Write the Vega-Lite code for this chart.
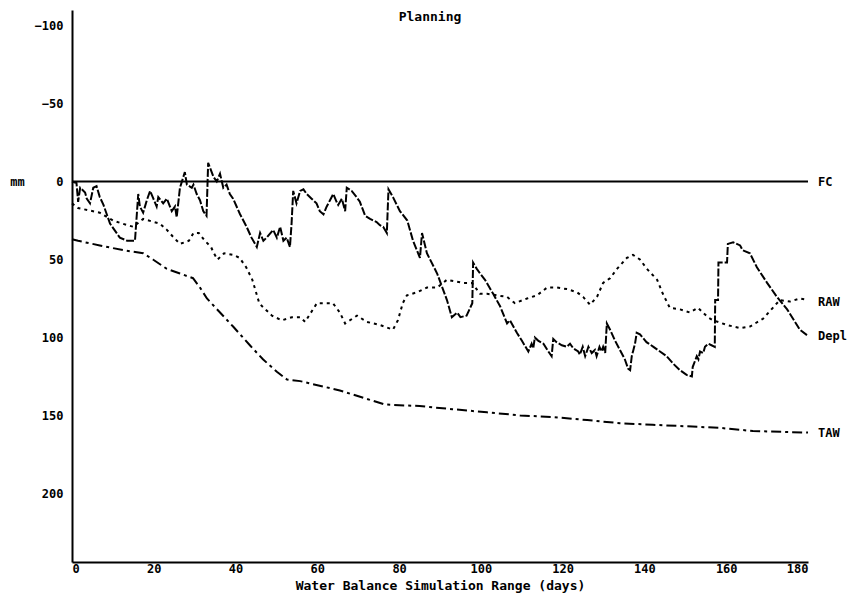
{
  "$schema": "https://vega.github.io/schema/vega-lite/v6.json",
  "width": 736,
  "height": 552,
  "autosize": {"type": "none"},
  "padding": {"left": 72, "top": 10, "right": 56, "bottom": 36},
  "background": "white",
  "config": {
    "view": {"stroke": null},
    "font": "DejaVu Sans Mono",
    "axis": {
      "grid": false,
      "ticks": false,
      "domainColor": "black",
      "domainWidth": 2,
      "labelFont": "DejaVu Sans Mono",
      "labelFontWeight": "bold",
      "labelFontSize": 12,
      "labelColor": "black",
      "titleFont": "DejaVu Sans Mono",
      "titleFontWeight": "bold",
      "titleFontSize": 13,
      "titleColor": "black"
    }
  },
  "title": {
    "text": "Planning",
    "orient": "top",
    "anchor": "middle",
    "offset": -14,
    "dx": -10,
    "font": "DejaVu Sans Mono",
    "fontSize": 13,
    "fontWeight": "bold",
    "color": "black"
  },
  "datasets": {
    "series": [
      {"series": "FC", "day": 0, "mm": 0}, {"series": "FC", "day": 180, "mm": 0},
      {"series": "Depl", "day": 0, "mm": 0}, {"series": "Depl", "day": 1.1, "mm": 1}, {"series": "Depl", "day": 1.5, "mm": 13},
      {"series": "Depl", "day": 2, "mm": 4}, {"series": "Depl", "day": 3.2, "mm": 7}, {"series": "Depl", "day": 3.6, "mm": 11},
      {"series": "Depl", "day": 4.4, "mm": 14}, {"series": "Depl", "day": 5.2, "mm": 4}, {"series": "Depl", "day": 6, "mm": 3},
      {"series": "Depl", "day": 6.8, "mm": 10}, {"series": "Depl", "day": 7.7, "mm": 15}, {"series": "Depl", "day": 9.3, "mm": 27},
      {"series": "Depl", "day": 11.7, "mm": 36}, {"series": "Depl", "day": 13.5, "mm": 38}, {"series": "Depl", "day": 15.4, "mm": 38},
      {"series": "Depl", "day": 16.2, "mm": 8}, {"series": "Depl", "day": 16.6, "mm": 16}, {"series": "Depl", "day": 17.4, "mm": 20},
      {"series": "Depl", "day": 18.3, "mm": 12}, {"series": "Depl", "day": 19.1, "mm": 6}, {"series": "Depl", "day": 19.9, "mm": 11},
      {"series": "Depl", "day": 20.7, "mm": 16}, {"series": "Depl", "day": 21.1, "mm": 10}, {"series": "Depl", "day": 22.3, "mm": 14},
      {"series": "Depl", "day": 23.2, "mm": 11}, {"series": "Depl", "day": 24.4, "mm": 19}, {"series": "Depl", "day": 25.2, "mm": 16},
      {"series": "Depl", "day": 25.6, "mm": 23}, {"series": "Depl", "day": 26.4, "mm": 4}, {"series": "Depl", "day": 27.6, "mm": -6},
      {"series": "Depl", "day": 28.1, "mm": 2}, {"series": "Depl", "day": 29.3, "mm": 4}, {"series": "Depl", "day": 29.7, "mm": 2},
      {"series": "Depl", "day": 30.5, "mm": 8}, {"series": "Depl", "day": 31.3, "mm": 12}, {"series": "Depl", "day": 32.1, "mm": 19},
      {"series": "Depl", "day": 32.9, "mm": 22}, {"series": "Depl", "day": 33.3, "mm": -12}, {"series": "Depl", "day": 34.6, "mm": -3},
      {"series": "Depl", "day": 35.4, "mm": 0}, {"series": "Depl", "day": 36.2, "mm": -5}, {"series": "Depl", "day": 37, "mm": 4},
      {"series": "Depl", "day": 37.8, "mm": 2}, {"series": "Depl", "day": 38.6, "mm": 8}, {"series": "Depl", "day": 39.4, "mm": 11},
      {"series": "Depl", "day": 41.1, "mm": 21}, {"series": "Depl", "day": 42.7, "mm": 29}, {"series": "Depl", "day": 43.9, "mm": 36},
      {"series": "Depl", "day": 45.2, "mm": 42}, {"series": "Depl", "day": 46, "mm": 33}, {"series": "Depl", "day": 46.8, "mm": 38},
      {"series": "Depl", "day": 47.6, "mm": 36}, {"series": "Depl", "day": 49.2, "mm": 31}, {"series": "Depl", "day": 50.1, "mm": 36},
      {"series": "Depl", "day": 50.9, "mm": 29}, {"series": "Depl", "day": 51.7, "mm": 38}, {"series": "Depl", "day": 52.5, "mm": 36},
      {"series": "Depl", "day": 53.3, "mm": 42}, {"series": "Depl", "day": 53.7, "mm": 27}, {"series": "Depl", "day": 54.1, "mm": 6},
      {"series": "Depl", "day": 54.9, "mm": 14}, {"series": "Depl", "day": 55.8, "mm": 6}, {"series": "Depl", "day": 56.6, "mm": 5},
      {"series": "Depl", "day": 57.4, "mm": 8}, {"series": "Depl", "day": 58.6, "mm": 11}, {"series": "Depl", "day": 59.8, "mm": 14},
      {"series": "Depl", "day": 60.6, "mm": 19}, {"series": "Depl", "day": 61.5, "mm": 21}, {"series": "Depl", "day": 62.3, "mm": 16},
      {"series": "Depl", "day": 63.1, "mm": 12}, {"series": "Depl", "day": 63.9, "mm": 8}, {"series": "Depl", "day": 64.7, "mm": 13},
      {"series": "Depl", "day": 65.1, "mm": 15}, {"series": "Depl", "day": 66, "mm": 11}, {"series": "Depl", "day": 66.8, "mm": 19},
      {"series": "Depl", "day": 67.2, "mm": 4}, {"series": "Depl", "day": 68.4, "mm": 6}, {"series": "Depl", "day": 69.6, "mm": 10},
      {"series": "Depl", "day": 70.4, "mm": 13}, {"series": "Depl", "day": 71.7, "mm": 22}, {"series": "Depl", "day": 72.9, "mm": 24},
      {"series": "Depl", "day": 74.5, "mm": 26}, {"series": "Depl", "day": 75.3, "mm": 28}, {"series": "Depl", "day": 76.1, "mm": 29},
      {"series": "Depl", "day": 77, "mm": 33}, {"series": "Depl", "day": 77.4, "mm": 5}, {"series": "Depl", "day": 78.5, "mm": 10},
      {"series": "Depl", "day": 80.2, "mm": 19}, {"series": "Depl", "day": 82, "mm": 25}, {"series": "Depl", "day": 83.4, "mm": 38},
      {"series": "Depl", "day": 85.1, "mm": 49}, {"series": "Depl", "day": 85.6, "mm": 33}, {"series": "Depl", "day": 86.8, "mm": 46},
      {"series": "Depl", "day": 89.3, "mm": 59}, {"series": "Depl", "day": 91.7, "mm": 76}, {"series": "Depl", "day": 92.9, "mm": 87},
      {"series": "Depl", "day": 94.2, "mm": 84}, {"series": "Depl", "day": 95, "mm": 87}, {"series": "Depl", "day": 96.5, "mm": 86},
      {"series": "Depl", "day": 97.9, "mm": 78}, {"series": "Depl", "day": 98.1, "mm": 52}, {"series": "Depl", "day": 99, "mm": 56},
      {"series": "Depl", "day": 99.8, "mm": 59}, {"series": "Depl", "day": 101, "mm": 63}, {"series": "Depl", "day": 103, "mm": 72},
      {"series": "Depl", "day": 104.7, "mm": 80}, {"series": "Depl", "day": 106.4, "mm": 91}, {"series": "Depl", "day": 107.1, "mm": 89},
      {"series": "Depl", "day": 108.8, "mm": 97}, {"series": "Depl", "day": 110, "mm": 102}, {"series": "Depl", "day": 111.6, "mm": 109},
      {"series": "Depl", "day": 112.4, "mm": 104}, {"series": "Depl", "day": 112.8, "mm": 107}, {"series": "Depl", "day": 113.2, "mm": 100},
      {"series": "Depl", "day": 114, "mm": 102}, {"series": "Depl", "day": 115.3, "mm": 104}, {"series": "Depl", "day": 116.5, "mm": 109},
      {"series": "Depl", "day": 117.3, "mm": 112}, {"series": "Depl", "day": 117.7, "mm": 101}, {"series": "Depl", "day": 118.5, "mm": 103},
      {"series": "Depl", "day": 119.8, "mm": 105}, {"series": "Depl", "day": 121, "mm": 106}, {"series": "Depl", "day": 121.8, "mm": 104},
      {"series": "Depl", "day": 122.6, "mm": 107}, {"series": "Depl", "day": 123.8, "mm": 109}, {"series": "Depl", "day": 124.2, "mm": 111},
      {"series": "Depl", "day": 124.9, "mm": 106}, {"series": "Depl", "day": 125.5, "mm": 112}, {"series": "Depl", "day": 126.3, "mm": 106},
      {"series": "Depl", "day": 127.1, "mm": 110}, {"series": "Depl", "day": 127.9, "mm": 108}, {"series": "Depl", "day": 128.3, "mm": 112},
      {"series": "Depl", "day": 129, "mm": 106}, {"series": "Depl", "day": 129.5, "mm": 109}, {"series": "Depl", "day": 129.9, "mm": 106},
      {"series": "Depl", "day": 130.4, "mm": 110}, {"series": "Depl", "day": 130.8, "mm": 91}, {"series": "Depl", "day": 131.6, "mm": 95},
      {"series": "Depl", "day": 132.8, "mm": 102}, {"series": "Depl", "day": 134, "mm": 108}, {"series": "Depl", "day": 135.2, "mm": 114},
      {"series": "Depl", "day": 136, "mm": 120}, {"series": "Depl", "day": 136.5, "mm": 121}, {"series": "Depl", "day": 136.9, "mm": 112},
      {"series": "Depl", "day": 137.3, "mm": 108}, {"series": "Depl", "day": 137.7, "mm": 104}, {"series": "Depl", "day": 138.1, "mm": 97},
      {"series": "Depl", "day": 138.9, "mm": 98}, {"series": "Depl", "day": 140.5, "mm": 103}, {"series": "Depl", "day": 142.2, "mm": 106},
      {"series": "Depl", "day": 143.8, "mm": 109}, {"series": "Depl", "day": 145.4, "mm": 112}, {"series": "Depl", "day": 147.1, "mm": 117},
      {"series": "Depl", "day": 148.7, "mm": 121}, {"series": "Depl", "day": 150.3, "mm": 124}, {"series": "Depl", "day": 151.6, "mm": 125},
      {"series": "Depl", "day": 151.8, "mm": 119}, {"series": "Depl", "day": 152.8, "mm": 112}, {"series": "Depl", "day": 153.2, "mm": 114},
      {"series": "Depl", "day": 153.6, "mm": 109}, {"series": "Depl", "day": 154.4, "mm": 110}, {"series": "Depl", "day": 154.8, "mm": 106},
      {"series": "Depl", "day": 155.6, "mm": 104}, {"series": "Depl", "day": 156.4, "mm": 105}, {"series": "Depl", "day": 157.2, "mm": 106},
      {"series": "Depl", "day": 157.3, "mm": 76}, {"series": "Depl", "day": 158, "mm": 76}, {"series": "Depl", "day": 158.1, "mm": 52},
      {"series": "Depl", "day": 160.2, "mm": 52}, {"series": "Depl", "day": 160.4, "mm": 40}, {"series": "Depl", "day": 161.7, "mm": 39},
      {"series": "Depl", "day": 163.4, "mm": 41}, {"series": "Depl", "day": 164, "mm": 44}, {"series": "Depl", "day": 165.8, "mm": 46},
      {"series": "Depl", "day": 167.5, "mm": 55}, {"series": "Depl", "day": 170, "mm": 65}, {"series": "Depl", "day": 172.4, "mm": 74},
      {"series": "Depl", "day": 174.9, "mm": 82}, {"series": "Depl", "day": 178, "mm": 95}, {"series": "Depl", "day": 180, "mm": 99},
      {"series": "RAW", "day": 0, "mm": 14}, {"series": "RAW", "day": 1.5, "mm": 17}, {"series": "RAW", "day": 6.8, "mm": 20},
      {"series": "RAW", "day": 10, "mm": 25}, {"series": "RAW", "day": 13.5, "mm": 28}, {"series": "RAW", "day": 15, "mm": 29},
      {"series": "RAW", "day": 17.4, "mm": 24}, {"series": "RAW", "day": 21.5, "mm": 27}, {"series": "RAW", "day": 23.2, "mm": 31},
      {"series": "RAW", "day": 24.9, "mm": 36}, {"series": "RAW", "day": 26.4, "mm": 40}, {"series": "RAW", "day": 28.6, "mm": 38},
      {"series": "RAW", "day": 29.7, "mm": 33}, {"series": "RAW", "day": 31, "mm": 33}, {"series": "RAW", "day": 32.5, "mm": 38},
      {"series": "RAW", "day": 34, "mm": 42}, {"series": "RAW", "day": 34.7, "mm": 46}, {"series": "RAW", "day": 35.6, "mm": 50},
      {"series": "RAW", "day": 37.2, "mm": 46}, {"series": "RAW", "day": 39.4, "mm": 47}, {"series": "RAW", "day": 41, "mm": 49},
      {"series": "RAW", "day": 42.6, "mm": 55}, {"series": "RAW", "day": 44.1, "mm": 63}, {"series": "RAW", "day": 45.8, "mm": 78},
      {"series": "RAW", "day": 46.5, "mm": 80}, {"series": "RAW", "day": 48.9, "mm": 86}, {"series": "RAW", "day": 51.3, "mm": 89},
      {"series": "RAW", "day": 53.8, "mm": 87}, {"series": "RAW", "day": 55.8, "mm": 87}, {"series": "RAW", "day": 57, "mm": 90},
      {"series": "RAW", "day": 59.9, "mm": 78}, {"series": "RAW", "day": 63.8, "mm": 78}, {"series": "RAW", "day": 65.5, "mm": 84},
      {"series": "RAW", "day": 66.8, "mm": 91}, {"series": "RAW", "day": 69.7, "mm": 86}, {"series": "RAW", "day": 72.1, "mm": 90},
      {"series": "RAW", "day": 75.3, "mm": 92}, {"series": "RAW", "day": 78.5, "mm": 95}, {"series": "RAW", "day": 79.7, "mm": 89},
      {"series": "RAW", "day": 80.9, "mm": 78}, {"series": "RAW", "day": 81.9, "mm": 73}, {"series": "RAW", "day": 84.4, "mm": 71},
      {"series": "RAW", "day": 86.8, "mm": 68}, {"series": "RAW", "day": 89.3, "mm": 68}, {"series": "RAW", "day": 91.7, "mm": 63},
      {"series": "RAW", "day": 95.6, "mm": 65}, {"series": "RAW", "day": 97.8, "mm": 65}, {"series": "RAW", "day": 99.8, "mm": 72},
      {"series": "RAW", "day": 101.5, "mm": 72}, {"series": "RAW", "day": 103.9, "mm": 73}, {"series": "RAW", "day": 106.4, "mm": 74},
      {"series": "RAW", "day": 108.3, "mm": 78}, {"series": "RAW", "day": 111.3, "mm": 75}, {"series": "RAW", "day": 113.7, "mm": 73},
      {"series": "RAW", "day": 116.2, "mm": 68}, {"series": "RAW", "day": 118.6, "mm": 68}, {"series": "RAW", "day": 121.1, "mm": 69},
      {"series": "RAW", "day": 123.5, "mm": 71}, {"series": "RAW", "day": 125, "mm": 74}, {"series": "RAW", "day": 126.7, "mm": 79},
      {"series": "RAW", "day": 128.4, "mm": 74}, {"series": "RAW", "day": 129.9, "mm": 65}, {"series": "RAW", "day": 131.6, "mm": 62},
      {"series": "RAW", "day": 133.3, "mm": 56}, {"series": "RAW", "day": 135.7, "mm": 49}, {"series": "RAW", "day": 137.2, "mm": 47},
      {"series": "RAW", "day": 138.9, "mm": 50}, {"series": "RAW", "day": 140.6, "mm": 56}, {"series": "RAW", "day": 143.1, "mm": 63},
      {"series": "RAW", "day": 144.5, "mm": 72}, {"series": "RAW", "day": 146.2, "mm": 81}, {"series": "RAW", "day": 148.7, "mm": 82},
      {"series": "RAW", "day": 151.1, "mm": 84}, {"series": "RAW", "day": 153.1, "mm": 81}, {"series": "RAW", "day": 154.3, "mm": 84},
      {"series": "RAW", "day": 155.5, "mm": 87}, {"series": "RAW", "day": 156.8, "mm": 89}, {"series": "RAW", "day": 160.2, "mm": 92},
      {"series": "RAW", "day": 163.4, "mm": 94}, {"series": "RAW", "day": 165.8, "mm": 93}, {"series": "RAW", "day": 169, "mm": 88},
      {"series": "RAW", "day": 171.4, "mm": 81}, {"series": "RAW", "day": 173.1, "mm": 76}, {"series": "RAW", "day": 175.6, "mm": 77},
      {"series": "RAW", "day": 178, "mm": 75}, {"series": "RAW", "day": 180, "mm": 76},
      {"series": "TAW", "day": 0, "mm": 37}, {"series": "TAW", "day": 1.5, "mm": 38}, {"series": "TAW", "day": 6.8, "mm": 41},
      {"series": "TAW", "day": 12.5, "mm": 44}, {"series": "TAW", "day": 17.4, "mm": 46}, {"series": "TAW", "day": 19.8, "mm": 50},
      {"series": "TAW", "day": 23.2, "mm": 56}, {"series": "TAW", "day": 26.4, "mm": 59}, {"series": "TAW", "day": 29.6, "mm": 62},
      {"series": "TAW", "day": 31.3, "mm": 68}, {"series": "TAW", "day": 33, "mm": 75}, {"series": "TAW", "day": 36.2, "mm": 84},
      {"series": "TAW", "day": 39.4, "mm": 93}, {"series": "TAW", "day": 43.5, "mm": 105}, {"series": "TAW", "day": 46.7, "mm": 114},
      {"series": "TAW", "day": 50.1, "mm": 122}, {"series": "TAW", "day": 52.6, "mm": 127}, {"series": "TAW", "day": 55.8, "mm": 128},
      {"series": "TAW", "day": 65.5, "mm": 134}, {"series": "TAW", "day": 76.5, "mm": 143}, {"series": "TAW", "day": 85, "mm": 144},
      {"series": "TAW", "day": 93, "mm": 146}, {"series": "TAW", "day": 101.5, "mm": 148}, {"series": "TAW", "day": 109.6, "mm": 150},
      {"series": "TAW", "day": 117.6, "mm": 151}, {"series": "TAW", "day": 126, "mm": 153}, {"series": "TAW", "day": 134, "mm": 155},
      {"series": "TAW", "day": 142, "mm": 156}, {"series": "TAW", "day": 150.4, "mm": 157}, {"series": "TAW", "day": 158.5, "mm": 158},
      {"series": "TAW", "day": 166.5, "mm": 160}, {"series": "TAW", "day": 180, "mm": 161}
    ],
    "ends": [
      {"label": "FC", "mm": 0},
      {"label": "RAW", "mm": 77},
      {"label": "Depl", "mm": 99},
      {"label": "TAW", "mm": 161}
    ]
  },
  "layer": [
    {
      "data": {"name": "series"},
      "mark": {"type": "line", "color": "black", "strokeWidth": 2},
      "encoding": {
        "x": {
          "field": "day", "type": "quantitative",
          "scale": {"domain": [0, 180], "nice": false, "zero": false},
          "axis": {
            "values": [0, 20, 40, 60, 80, 100, 120, 140, 160, 180],
            "title": "Water Balance Simulation Range (days)",
            "labelPadding": 1,
            "titlePadding": 5
          }
        },
        "y": {
          "field": "mm", "type": "quantitative",
          "scale": {"domain": [-110, 244], "reverse": true, "nice": false, "zero": false},
          "axis": {
            "values": [-100, -50, 0, 50, 100, 150, 200],
            "title": "mm",
            "titleAngle": 0,
            "titleX": -55,
            "titleY": 171.5,
            "titleAlign": "center",
            "titleBaseline": "middle",
            "titleFontSize": 12,
            "labelPadding": 9
          }
        },
        "strokeDash": {
          "field": "series", "type": "nominal",
          "scale": {"domain": ["FC", "Depl", "RAW", "TAW"], "range": [[1, 0], [8, 2], [3, 4], [10, 4, 3, 4]]},
          "legend": null
        }
      }
    },
    {
      "mark": {"type": "rule", "color": "black", "strokeWidth": 2},
      "encoding": {"y": {"datum": -110}}
    },
    {
      "mark": {"type": "rule", "color": "black", "strokeWidth": 2, "strokeDash": [12, 3, 3, 3]},
      "encoding": {"x": {"datum": 180}}
    },
    {
      "data": {"name": "ends"},
      "mark": {"type": "text", "align": "left", "baseline": "middle", "dx": 10, "font": "DejaVu Sans Mono", "fontWeight": "bold", "fontSize": 12, "color": "black"},
      "encoding": {
        "x": {"datum": 180},
        "y": {"field": "mm", "type": "quantitative"},
        "text": {"field": "label"}
      }
    }
  ]
}
